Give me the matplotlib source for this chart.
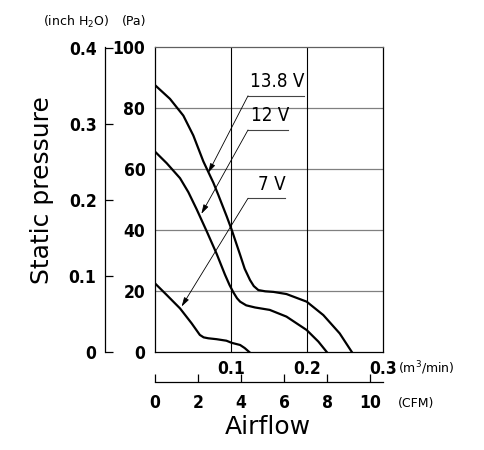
import matplotlib
matplotlib.use("Agg")
import matplotlib.pyplot as plt

# airflow (m3/min) and static pressure (Pa)
flow_138 = [0, 0.0197, 0.0373, 0.0504, 0.0636, 0.0768, 0.0833, 0.0943, 0.101, 0.1118,
            0.118, 0.125, 0.130, 0.136, 0.145, 0.156, 0.173, 0.1996, 0.2215, 0.243, 0.259]
pres_138 = [87.5, 83.0, 77.5, 71.0, 62.5, 55.5, 51.5, 44.5, 40.0, 32.0,
            27.3, 23.6, 21.6, 20.3, 19.9, 19.7, 19.0, 16.5, 12.1, 6.1, 0]
flow_12 = [0, 0.0154, 0.0329, 0.0439, 0.0548, 0.068, 0.0811, 0.092, 0.098, 0.103,
           0.108, 0.112, 0.120, 0.1316, 0.151, 0.173, 0.1996, 0.215, 0.226]
pres_12 = [65.7, 61.9, 57.0, 52.4, 46.8, 39.6, 32.2, 25.4, 22.0, 19.6,
           17.6, 16.5, 15.3, 14.6, 13.8, 11.6, 7.2, 3.4, 0]
flow_7 = [0, 0.0154, 0.0329, 0.0482, 0.059, 0.064, 0.070, 0.081, 0.094, 0.101,
          0.112, 0.118, 0.124]
pres_7 = [22.5, 18.7, 14.3, 9.4, 5.6, 4.8, 4.5, 4.2, 3.7, 3.0, 2.3, 1.3, 0]

labels = ["13.8 V", "12 V", "7 V"]
label_y = [84.0, 72.8, 50.4]
label_x1 = [0.196, 0.175, 0.171]
arrow_tips = [(0.0702, 58.8), (0.061, 45.3), (0.035, 14.9)]

pa_ticks = [0, 20, 40, 60, 80, 100]
m3_ticks = [0.1, 0.2, 0.3]
inch_ticks = [0, 0.1, 0.2, 0.3, 0.4]
cfm_ticks = [0, 2, 4, 6, 8, 10]

PA_PER_INCH = 249.089
CFM_PER_M3 = 35.3147

num_font = dict(family="DejaVu Sans", stretch="condensed", weight="bold", size=12.5)

fig = plt.figure(figsize=(4.85, 4.5), dpi=100)
ax = fig.add_axes([155 / 485, 1 - 352 / 450, 228 / 485, 305 / 450])

for x, y in [(flow_138, pres_138), (flow_12, pres_12), (flow_7, pres_7)]:
    ax.plot(x, y, color="black", lw=1.6, solid_joinstyle="round")

ax.set_xlim(0, 0.3)
ax.set_ylim(0, 100)
for v in pa_ticks[1:-1]:
    ax.axhline(v, color="#808080", lw=0.9, zorder=0)
for v in m3_ticks[:-1]:
    ax.axvline(v, color="black", lw=0.8, zorder=0)
for s in ax.spines.values():
    s.set_linewidth(0.9)
ax.spines["top"].set_color("#606060")

ax.set_yticks(pa_ticks)
ax.set_yticklabels([str(v) for v in pa_ticks], **num_font)
ax.set_xticks(m3_ticks)
ax.set_xticklabels([f"{v:.1f}" for v in m3_ticks], **num_font)
ax.tick_params(length=0, pad=6)
ax.tick_params(axis="y", pad=7)

# voltage labels with underline and leader arrow
for lab, ly, lx1, tip in zip(labels, label_y, label_x1, arrow_tips):
    ax.plot([0.1224, lx1], [ly, ly], color="#444444", lw=0.8)
    ax.text(lx1 + 0.001, ly + 1.5, lab, ha="right", va="bottom",
            family="DejaVu Sans", stretch="condensed", size=13.5)
    ax.annotate("", xy=tip, xytext=(0.1224, ly),
                arrowprops=dict(arrowstyle="-|>,head_length=0.55,head_width=0.16",
                                color="black", lw=0.6, shrinkA=0, shrinkB=0))

# inch H2O scale on the far left
sec_y = ax.secondary_yaxis(-0.22, functions=(lambda p: p / PA_PER_INCH,
                                             lambda i: i * PA_PER_INCH))
sec_y.set_yticks(inch_ticks)
sec_y.set_yticklabels([str(v) for v in inch_ticks], **num_font)
sec_y.tick_params(direction="in", length=6, width=0.9, pad=6)
sec_y.spines["left"].set_linewidth(0.9)

# CFM scale below
sec_x = ax.secondary_xaxis(-0.098, functions=(lambda m: m * CFM_PER_M3,
                                              lambda c: c / CFM_PER_M3))
sec_x.set_xticks(cfm_ticks)
sec_x.set_xticklabels([str(v) for v in cfm_ticks], **num_font)
sec_x.tick_params(direction="in", length=6, width=0.9, pad=9)
sec_x.spines["bottom"].set_linewidth(0.9)

small = dict(family="DejaVu Sans", size=9)
fig.text(42 / 485, 1 - 190 / 450, "Static pressure", rotation=90,
         ha="center", va="center", family="DejaVu Sans", size=18)
fig.text(268 / 485, 1 - 427 / 450, "Airflow", ha="center", va="center",
         family="DejaVu Sans", size=18)
fig.text(43 / 485, 1 - 22 / 450, "(inch H$_2$O)", ha="left", va="center", **small)
fig.text(122 / 485, 1 - 22 / 450, "(Pa)", ha="left", va="center", **small)
fig.text(398 / 485, 1 - 368 / 450, "(m$^3$/min)", ha="left", va="center", **small)
fig.text(398 / 485, 1 - 403 / 450, "(CFM)", ha="left", va="center", **small)

fig.savefig("out.png", dpi=100)
